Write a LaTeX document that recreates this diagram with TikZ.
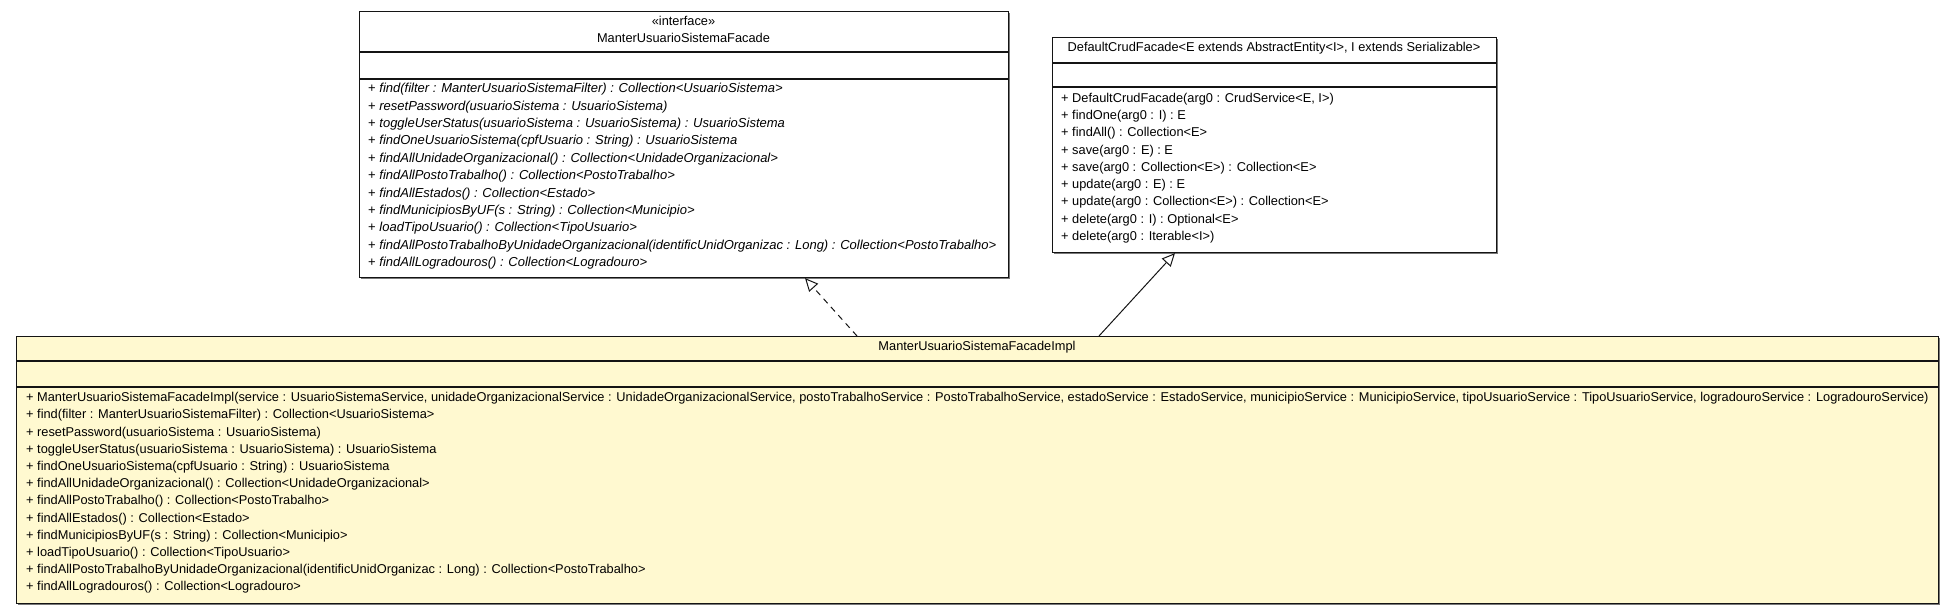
\documentclass[tikz,border=0pt]{standalone}
\usepackage{fontspec}
\setmainfont{Liberation Sans}
\usetikzlibrary{arrows.meta,shadows}
\definecolor{implfill}{RGB}{255,249,208}
\definecolor{edge}{RGB}{20,20,20}
\definecolor{shade}{RGB}{120,120,120}
\newcommand{\umlfont}{\fontsize{12.8}{14}\selectfont}
\newcommand{\umlifont}{\fontsize{13.0}{14}\selectfont\itshape}
\tikzset{
  classbox/.style={draw=edge, line width=1.1pt, rectangle, inner sep=0pt, anchor=north west,
    drop shadow={shadow xshift=1.6pt, shadow yshift=-1.6pt, fill=shade, opacity=1}},
  ifacebox/.style={classbox, fill=white},
  implbox/.style={classbox, fill=implfill},
  mtxt/.style={anchor=mid west, inner sep=0pt, font=\umlfont},
  itxt/.style={anchor=mid west, inner sep=0pt, font=\umlifont},
  ctxt/.style={anchor=mid, inner sep=0pt, font=\umlfont},
  sep/.style={draw=edge, line width=1.1pt},
  realize/.style={draw=edge, line width=1pt, dash pattern=on 6pt off 5pt, -{Triangle[open,length=13pt,width=12pt]}},
  general/.style={draw=edge, line width=1pt, -{Triangle[open,length=13pt,width=12pt]}}
}
\begin{document}
\begin{tikzpicture}[x=1pt,y=-1pt]
\useasboundingbox (0,0) rectangle (1956,613);
% ---------- interface ----------
\node[ifacebox, minimum width=649pt, minimum height=266pt] (iface) at (359,11) {};
\draw[sep] (iface.west |- 0,52) -- (iface.east |- 0,52);
\draw[sep] (iface.west |- 0,79) -- (iface.east |- 0,79);
\node[ctxt] (iface-st) at (683.5,23) {«interface»};
\node[ctxt] (iface-nm) at (683.5,39.5) {ManterUsuarioSistemaFacade};
\node[itxt] (i1) at (368,90.0) {{\upshape +} find(filter : ManterUsuarioSistemaFilter) : Collection<UsuarioSistema>};
\node[itxt] (i2) at (368,107.4) {{\upshape +} resetPassword(usuarioSistema : UsuarioSistema)};
\node[itxt] (i3) at (368,124.8) {{\upshape +} toggleUserStatus(usuarioSistema : UsuarioSistema) : UsuarioSistema};
\node[itxt] (i4) at (368,142.2) {{\upshape +} findOneUsuarioSistema(cpfUsuario : String) : UsuarioSistema};
\node[itxt] (i5) at (368,159.6) {{\upshape +} findAllUnidadeOrganizacional() : Collection<UnidadeOrganizacional>};
\node[itxt] (i6) at (368,177.0) {{\upshape +} findAllPostoTrabalho() : Collection<PostoTrabalho>};
\node[itxt] (i7) at (368,194.4) {{\upshape +} findAllEstados() : Collection<Estado>};
\node[itxt] (i8) at (368,211.8) {{\upshape +} findMunicipiosByUF(s : String) : Collection<Municipio>};
\node[itxt] (i9) at (368,229.2) {{\upshape +} loadTipoUsuario() : Collection<TipoUsuario>};
\node[itxt] (i10) at (368,246.6) {{\upshape +} findAllPostoTrabalhoByUnidadeOrganizacional(identificUnidOrganizac : Long) : Collection<PostoTrabalho>};
\node[itxt] (i11) at (368,264.0) {{\upshape +} findAllLogradouros() : Collection<Logradouro>};
% ---------- DefaultCrudFacade ----------
\node[ifacebox, minimum width=444pt, minimum height=215pt] (crud) at (1052,37) {};
\draw[sep] (crud.west |- 0,63) -- (crud.east |- 0,63);
\draw[sep] (crud.west |- 0,87) -- (crud.east |- 0,87);
\node[ctxt] (crud-nm) at (1274,49) {DefaultCrudFacade<E extends AbstractEntity<I>, I extends Serializable>};
\node[mtxt] (c1) at (1061,99.5) {+ DefaultCrudFacade(arg0 : CrudService<E, I>)};
\node[mtxt] (c2) at (1061,116.8) {+ findOne(arg0 : I) : E};
\node[mtxt] (c3) at (1061,134.1) {+ findAll() : Collection<E>};
\node[mtxt] (c4) at (1061,151.4) {+ save(arg0 : E) : E};
\node[mtxt] (c5) at (1061,168.7) {+ save(arg0 : Collection<E>) : Collection<E>};
\node[mtxt] (c6) at (1061,186.0) {+ update(arg0 : E) : E};
\node[mtxt] (c7) at (1061,203.3) {+ update(arg0 : Collection<E>) : Collection<E>};
\node[mtxt] (c8) at (1061,220.6) {+ delete(arg0 : I) : Optional<E>};
\node[mtxt] (c9) at (1061,237.9) {+ delete(arg0 : Iterable<I>)};
% ---------- Impl ----------
\node[implbox, minimum width=1922pt, minimum height=267pt] (impl) at (16,336) {};
\draw[sep] (impl.west |- 0,361) -- (impl.east |- 0,361);
\draw[sep] (impl.west |- 0,387) -- (impl.east |- 0,387);
\node[ctxt] (impl-nm) at (977,347.5) {ManterUsuarioSistemaFacadeImpl};
\node[mtxt] (m1) at (26,399.0) {+ ManterUsuarioSistemaFacadeImpl(service : UsuarioSistemaService, unidadeOrganizacionalService : UnidadeOrganizacionalService, postoTrabalhoService : PostoTrabalhoService, estadoService : EstadoService, municipioService : MunicipioService, tipoUsuarioService : TipoUsuarioService, logradouroService : LogradouroService)};
\node[mtxt] (m2) at (26,416.2) {+ find(filter : ManterUsuarioSistemaFilter) : Collection<UsuarioSistema>};
\node[mtxt] (m3) at (26,433.4) {+ resetPassword(usuarioSistema : UsuarioSistema)};
\node[mtxt] (m4) at (26,450.6) {+ toggleUserStatus(usuarioSistema : UsuarioSistema) : UsuarioSistema};
\node[mtxt] (m5) at (26,467.8) {+ findOneUsuarioSistema(cpfUsuario : String) : UsuarioSistema};
\node[mtxt] (m6) at (26,485.0) {+ findAllUnidadeOrganizacional() : Collection<UnidadeOrganizacional>};
\node[mtxt] (m7) at (26,502.2) {+ findAllPostoTrabalho() : Collection<PostoTrabalho>};
\node[mtxt] (m8) at (26,519.4) {+ findAllEstados() : Collection<Estado>};
\node[mtxt] (m9) at (26,536.6) {+ findMunicipiosByUF(s : String) : Collection<Municipio>};
\node[mtxt] (m10) at (26,553.8) {+ loadTipoUsuario() : Collection<TipoUsuario>};
\node[mtxt] (m11) at (26,571.0) {+ findAllPostoTrabalhoByUnidadeOrganizacional(identificUnidOrganizac : Long) : Collection<PostoTrabalho>};
\node[mtxt] (m12) at (26,588.2) {+ findAllLogradouros() : Collection<Logradouro>};
% ---------- connectors ----------
\draw[realize] (857,0 |- impl.north) -- (805,0 |- iface.south);
\draw[general] (1099,0 |- impl.north) -- (1175,0 |- crud.south);
\end{tikzpicture}
\end{document}
